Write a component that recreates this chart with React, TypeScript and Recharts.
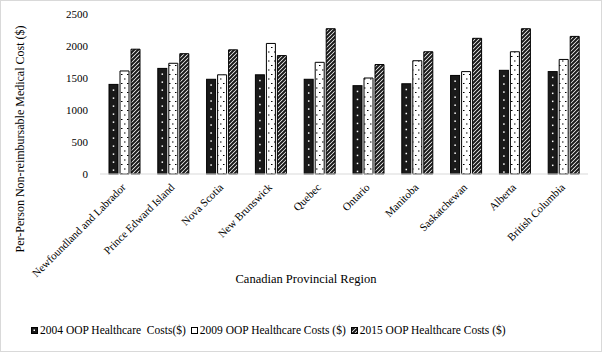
import React from 'react'
import { BarChart, Bar, XAxis, YAxis, Legend, Label } from 'recharts'

const regions = [
  'Newfoundland and Labrador',
  'Prince Edward Island',
  'Nova Scotia',
  'New Brunswick',
  'Quebec',
  'Ontario',
  'Manitoba',
  'Saskatchewan',
  'Alberta',
  'British Columbia',
]
const costs2004 = [1400, 1650, 1480, 1550, 1480, 1380, 1410, 1540, 1620, 1600]
const costs2009 = [1610, 1730, 1550, 2040, 1745, 1500, 1770, 1600, 1910, 1790]
const costs2015 = [1950, 1880, 1940, 1850, 2270, 1710, 1910, 2120, 2270, 2150]
const yTicks = [0, 500, 1000, 1500, 2000, 2500]
const seriesNames = [
  '2004 OOP Healthcare  Costs($)',
  '2009 OOP Healthcare Costs ($)',
  '2015 OOP Healthcare Costs ($)',
]

const data = regions.map((region, i) => ({
  region,
  c2004: costs2004[i],
  c2009: costs2009[i],
  c2015: costs2015[i],
}))

const FONT = '"Liberation Serif", "Times New Roman", serif'

function BlackDotBar(props: any) {
  const { x, y, width, height } = props
  const dots = []
  for (let dy = 5; dy < height - 2; dy += 8) {
    dots.push(
      <rect key={dy} x={x + width / 2 - 0.75} y={y + dy} width={1.5} height={1.5} fill="#fff" />
    )
  }
  return (
    <g>
      <rect x={x} y={y} width={width} height={height} fill="#1a1a1a" stroke="#000" strokeWidth={1} />
      {dots}
    </g>
  )
}

function RegionTick(props: any) {
  const { x, y, payload } = props
  return (
    <g transform={`translate(${x},${y})`}>
      <text
        x={0}
        y={0}
        transform="translate(2,6) rotate(-45)"
        textAnchor="end"
        fontSize={11}
        fill="#000"
        fontFamily={FONT}
      >
        {payload.value}
      </text>
    </g>
  )
}

function LegendBox() {
  const icon = (fill: string, key: number) => (
    <svg key={key} width={7} height={7} style={{ marginRight: 2, display: 'block' }}>
      <rect x={0.5} y={0.5} width={6} height={6} fill={fill} stroke="#000" strokeWidth={1} />
      {key === 0 && <rect x={2.5} y={2.5} width={1.5} height={1.5} fill="#fff" />}
    </svg>
  )
  const fills = ['#1a1a1a', '#fff', 'url(#hatch2015)']
  return (
    <div
      style={{
        display: 'flex',
        alignItems: 'center',
        paddingLeft: 31,
        fontFamily: FONT,
        fontSize: 11.5,
        color: '#000',
        height: 20,
        whiteSpace: 'pre',
      }}
    >
      {seriesNames.map((name, i) => (
        <div key={name} style={{ display: 'flex', alignItems: 'center', marginRight: 5 }}>
          {icon(fills[i], i)}
          <span>{name}</span>
        </div>
      ))}
    </div>
  )
}

export default function App() {
  return (
    <div
      style={{
        position: 'absolute',
        left: 0,
        top: 0,
        width: 602,
        height: 352,
        boxSizing: 'border-box',
        border: '1px solid #d9d9d9',
        background: '#fff',
        fontFamily: FONT,
      }}
    >
      <div style={{ position: 'absolute', left: -1, top: -1 }}>
        <BarChart
          width={602}
          height={352}
          data={data}
          margin={{ top: 14, right: 14, bottom: 12, left: 0 }}
          barSize={9}
          barGap={2}
          style={{ fontFamily: FONT }}
        >
          <defs>
            <pattern id="dots2009" patternUnits="userSpaceOnUse" width={6} height={9}>
              <rect width={6} height={9} fill="#fff" />
              <rect x={1} y={2} width={1.5} height={1} fill="#000" />
              <rect x={4} y={6.5} width={1.5} height={1} fill="#000" />
            </pattern>
            <pattern id="hatch2015" patternUnits="userSpaceOnUse" width={4} height={4}>
              <rect width={4} height={4} fill="#fff" />
              <path d="M-1,1 l2,-2 M0,4 l4,-4 M3,5 l2,-2" stroke="#1a1a1a" strokeWidth={2} />
            </pattern>
          </defs>
          <XAxis
            dataKey="region"
            interval={0}
            tickLine={false}
            axisLine={{ stroke: '#d9d9d9' }}
            tick={<RegionTick />}
            height={146}
          >
            <Label
              value="Canadian Provincial Region"
              position="insideTop"
              offset={100}
              dx={-38}
              fontSize={12.5}
              fill="#000"
              fontFamily={FONT}
            />
          </XAxis>
          <YAxis
            domain={[0, 2500]}
            ticks={yTicks}
            width={100}
            axisLine={false}
            tickLine={false}
            tickMargin={6}
            tick={{ fill: '#000', fontSize: 11, fontFamily: FONT }}
          >
            <Label
              content={() => (
                <text
                  x={20}
                  y={139}
                  transform="rotate(-90 20 139)"
                  textAnchor="middle"
                  dominantBaseline="central"
                  fontSize={12}
                  fill="#000"
                  fontFamily={FONT}
                >
                  Per-Person Non-reimbursable Medical Cost ($)
                </text>
              )}
            />
          </YAxis>
          <Legend
            verticalAlign="bottom"
            content={<LegendBox />}
            wrapperStyle={{ left: 0, width: 602, height: 20 }}
          />
          <Bar dataKey="c2004" name={seriesNames[0]} shape={<BlackDotBar />} isAnimationActive={false} />
          <Bar
            dataKey="c2009"
            name={seriesNames[1]}
            fill="url(#dots2009)"
            stroke="#000"
            strokeWidth={1}
            isAnimationActive={false}
          />
          <Bar
            dataKey="c2015"
            name={seriesNames[2]}
            fill="url(#hatch2015)"
            stroke="#000"
            strokeWidth={1}
            isAnimationActive={false}
          />
        </BarChart>
      </div>
    </div>
  )
}
